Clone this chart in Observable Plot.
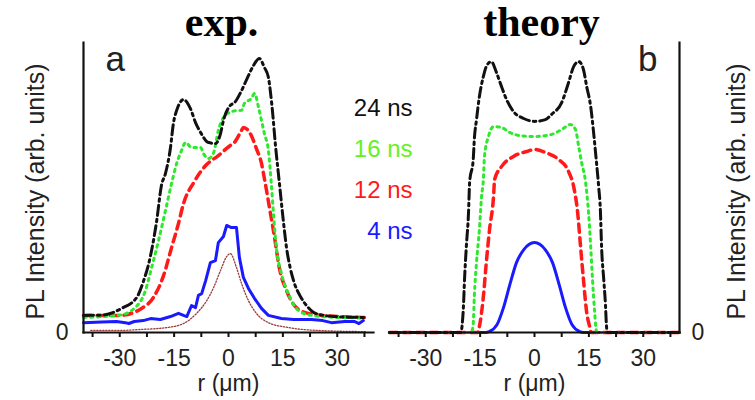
<!DOCTYPE html>
<html><head><meta charset="utf-8">
<script src="https://cdn.jsdelivr.net/npm/d3@7"></script>
<script src="https://cdn.jsdelivr.net/npm/@observablehq/plot@0.6"></script>
<style>body{margin:0;background:#fff;}</style>
</head><body><div id="chart"></div>
<script>
const panels = ["exp.", "theory"];
const panelLetters = ["a", "b"];
const xTicksMajor = [-30, -15, 0, 15, 30];
const xTicksMinor = [-37.5, -30, -22.5, -15, -7.5, 0, 7.5, 15, 22.5, 30, 37.5];
const yTicks = [0];
const xLabel = "r (μm)";
const yLabel = "PL Intensity (arb. units)";
const legendLabels = ["24 ns", "16 ns", "12 ns", "4 ns"];
const legendColors = ["#111111", "#66f022", "#ff1a1a", "#1a1aff"];

// experiment (panel a)
const exp24R = [-40, -35, -29.5, -25.3, -23.4, -22, -20.7, -19.8, -18.5, -17.4, -16, -15.2, -14.3, -12.4, -10.5, -9.1, -7.7, -5.5, -3.6, -2.2, -1.4, 0.5, 1.7, 3.6, 5.5, 6.9, 8.5, 9.9, 11, 12, 13, 14, 15, 16, 17, 18.2, 20, 22, 24, 29, 33, 37.5];
const exp24V = [5.9, 6.0, 8.3, 12.1, 17.9, 23.8, 31.7, 38.6, 50.7, 54.8, 63.8, 72.1, 76.6, 80.3, 77.2, 72.4, 69.0, 65.5, 65.2, 68.6, 73.1, 78.3, 79.3, 83.4, 88.6, 92.1, 94.5, 91.4, 88.0, 78.0, 64.0, 52.0, 40.0, 29.3, 22.4, 16.9, 12.1, 8.6, 6.6, 5.5, 5.3, 5.2];
const exp16R = [-40, -30, -26, -22.9, -21.2, -19.3, -17.4, -15.7, -14.3, -13.2, -11.8, -10.2, -7.7, -6.9, -5.5, -4.1, -2.8, -1.4, 0.3, 2, 3.6, 4.4, 6.3, 7.2, 8.3, 9.1, 9.9, 11, 11.8, 12.4, 13.2, 14.6, 16.5, 19.3, 22.9, 30, 37.5];
const exp16V = [5.2, 6.0, 8.3, 14.5, 22.4, 31.7, 42.0, 51.4, 58.3, 62.0, 65.5, 63.8, 63.8, 61.7, 60.0, 62.0, 69.7, 74.1, 75.9, 76.5, 76.6, 79.0, 80.7, 82.4, 77.6, 73.1, 68.6, 62.8, 51.4, 41.0, 29.3, 20.3, 13.4, 7.6, 5.9, 5.2, 5.0];
const exp12R = [-40, -30, -24, -20.7, -17.9, -15.7, -13.8, -12.4, -9.6, -6.3, -2.8, 0.5, 1.4, 3.6, 4.1, 6.3, 7.7, 9.1, 9.9, 11.3, 12.7, 14, 16, 18.7, 22, 30, 37.5];
const exp12V = [5.9, 5.9, 8.3, 12.1, 19.7, 29.3, 37.6, 44.5, 51.7, 57.6, 61.0, 64.5, 65.2, 69.7, 70.7, 67.9, 63.4, 58.3, 53.1, 43.1, 32.8, 22.4, 14.5, 8.6, 6.6, 5.5, 5.2];
const exp4R = [-40, -35, -30.9, -28.5, -27.5, -26, -23.5, -21.5, -18.8, -16, -13.8, -12.4, -11.5, -10.2, -9.1, -8.3, -7.4, -6.3, -5, -3.6, -2.8, -1.4, -0.5, 0.8, 2.2, 3, 4.1, 5.5, 7.2, 9.1, 11, 14.6, 18, 22.9, 26, 28.4, 32, 34.7, 36, 37.2];
const exp4V = [3.4, 3.6, 3.8, 3.4, 3.1, 3.8, 4.1, 4.8, 4.5, 5.5, 6.6, 5.9, 5.5, 9.3, 8.6, 12.8, 13.4, 17.9, 24.1, 24.8, 31.0, 33.1, 36.9, 36.2, 36.2, 25.9, 19.0, 15.2, 11.7, 8.3, 5.9, 4.8, 4.5, 4.5, 4.1, 3.4, 3.8, 3.8, 3.1, 4.1];
const spotR = [-38, -30, -25, -17, -12.4, -8.8, -6, -4.1, -2.2, -0.5, 0.5, 2.2, 3.6, 5.5, 7.7, 11, 16.5, 24.8, 38];
const spotV = [0.7, 0.7, 1.0, 1.7, 3.1, 6.6, 11.0, 15.5, 21.4, 26.2, 27.2, 22.4, 16.9, 11.0, 6.6, 3.4, 1.7, 0.7, 0.3];

// theory (panel b)
const th24R = [-40, -20.3, -19.9, -19.6, -19.3, -18.8, -18.2, -17.9, -16.9, -16.6, -16, -15.2, -14.1, -13.3, -11.9, -10.5, -9.1, -7.7, -5.8, -3, 0, 3, 4.7, 7.5, 9.4, 10.8, 12.2, 13.5, 14.4, 15.5, 16.3, 17.1, 17.7, 18.2, 18.5, 19.1, 19.6, 19.8, 20.1, 40];
const th24V = [0, 0, 3.4, 9.0, 18.3, 29.7, 41.4, 51.7, 59.7, 66.6, 73.4, 81.4, 88.3, 91.7, 93.4, 89.7, 84.8, 80.3, 76.2, 73.8, 72.8, 73.4, 75.2, 79.3, 86.2, 91.7, 93.4, 90.7, 84.8, 77.9, 69.0, 58.6, 50.3, 41.4, 29.7, 18.3, 9.0, 3.4, 0, 0];
const th16R = [-40, -17.4, -16.9, -16.6, -16, -15.2, -14.6, -14.1, -13.8, -12.7, -11.3, -9.1, -6.9, -4.1, 0, 4.7, 7.5, 9.9, 11.3, 12.2, 13, 14.1, 14.9, 15.5, 16, 16.6, 16.9, 17.2, 40];
const th16V = [0, 0, 3.0, 12.4, 24.1, 35.5, 46.9, 52.8, 60.7, 67.6, 71.0, 70.7, 69.0, 67.9, 67.6, 68.3, 70.0, 71.7, 70.0, 64.1, 58.6, 51.7, 41.4, 29.7, 18.3, 6.9, 2.1, 0, 0];
const th12R = [-40, -15.6, -15.2, -14.1, -13.3, -12.4, -11.3, -11, -9.1, -5.8, -2.2, 0, 3, 6.6, 9.4, 10.8, 11.9, 12.7, 13.5, 14.4, 15.2, 15.6, 40];
const th12V = [0, 0, 2.1, 12.4, 24.1, 35.5, 46.9, 52.8, 57.2, 60.7, 62.4, 63.1, 62.1, 59.7, 55.5, 50.3, 41.4, 29.7, 18.3, 6.9, 2.1, 0, 0];
const th4R = [-40, -13.5, -12.5, -10.3, -8.6, -6.8, -5, -3, 0, 3, 5, 6.8, 8.6, 10.3, 12.5, 13.5, 40];
const th4V = [0, 0, 0.3, 2.8, 8.4, 16.5, 24.0, 28.5, 31.0, 28.5, 24.0, 16.5, 8.4, 2.8, 0.3, 0, 0];

const rows = (panel, series, R, V) => R.map((r, i) => ({panel, series, r, v: V[i]}));

const styles = {
  "24 ns": {stroke: "#111111", strokeWidth: 3, strokeDasharray: "10,4,2.5,4"},
  "16 ns": {stroke: "#2ee82e", strokeWidth: 3, strokeDasharray: "2.5,4.5"},
  "12 ns": {stroke: "#ff1a1a", strokeWidth: 3.5, strokeDasharray: "8,5.5"},
  "4 ns": {stroke: "#1a1aff", strokeWidth: 3},
  "spot": {stroke: "#9a3b3b", strokeWidth: 1.3, strokeDasharray: "1.3,1.7"}
};

const layers = [
  {data: rows(panels[0], "spot", spotR, spotV), curve: "monotone-x"},
  {data: rows(panels[0], "4 ns", exp4R, exp4V), curve: "linear"},
  {data: rows(panels[0], "12 ns", exp12R, exp12V), curve: "monotone-x"},
  {data: rows(panels[0], "16 ns", exp16R, exp16V), curve: "monotone-x"},
  {data: rows(panels[0], "24 ns", exp24R, exp24V), curve: "monotone-x"},
  {data: rows(panels[1], "4 ns", th4R, th4V), curve: "monotone-x"},
  {data: rows(panels[1], "12 ns", th12R, th12V), curve: "monotone-x"},
  {data: rows(panels[1], "16 ns", th16R, th16V), curve: "monotone-x"},
  {data: rows(panels[1], "24 ns", th24R, th24V), curve: "monotone-x"}
];

const sans = "'Liberation Sans', Arial, Helvetica, sans-serif";

const chart = Plot.plot({
  width: 755,
  height: 400,
  marginLeft: 82,
  marginRight: 75,
  marginTop: 42,
  marginBottom: 68,
  fx: {domain: panels, paddingInner: 0.052, paddingOuter: 0, axis: null, label: null},
  x: {domain: [-40, 40]},
  y: {domain: [0, 100]},
  style: {fontFamily: sans, background: "white", color: "#222"},
  marks: [
    ...layers.map(L => Plot.line(L.data, {x: "r", y: "v", fx: "panel", curve: L.curve, ...styles[L.data[0].series]})),
    Plot.frame({anchor: "bottom", strokeWidth: 2.2, stroke: "#111"}),
    Plot.frame({anchor: "left", facetAnchor: "left", strokeWidth: 2.2, stroke: "#111"}),
    Plot.frame({anchor: "right", facetAnchor: "right", strokeWidth: 2.2, stroke: "#111"}),
    Plot.axisX(xTicksMinor, {tickSize: 5, strokeWidth: 2, stroke: "#111", tickFormat: () => "", label: null}),
    Plot.axisX(xTicksMajor, {tickSize: 0, tickPadding: 17, fontSize: 23, fill: "#222", tickFormat: d => String(d), label: null}),
    Plot.axisY(yTicks, {anchor: "left", facetAnchor: "left", tickSize: 0, tickPadding: 15, fontSize: 23, fill: "#222", label: null}),
    Plot.axisY(yTicks, {anchor: "right", facetAnchor: "right", tickSize: 0, tickPadding: 12, fontSize: 23, fill: "#222", label: null}),
    Plot.text([xLabel], {text: d => d, frameAnchor: "bottom", lineAnchor: "top", dy: 42, fontSize: 23, fill: "#222"}),
    Plot.text([yLabel], {text: d => d, frameAnchor: "left", textAnchor: "middle", rotate: -90, dx: -48, dy: 4, fontSize: 25, fill: "#222", facetAnchor: "left"}),
    Plot.text([yLabel], {text: d => d, frameAnchor: "right", textAnchor: "middle", rotate: -90, dx: 57, dy: 4, fontSize: 25, fill: "#222", facetAnchor: "right"}),
    Plot.text([{panel: panels[0]}], {fx: "panel", text: "panel", frameAnchor: "top", lineAnchor: "bottom", dx: -7, dy: -7, fontSize: 42, fontWeight: "bold", fontFamily: "'Liberation Serif', 'Times New Roman', serif", fill: "#000"}),
    Plot.text([{panel: panels[1]}], {fx: "panel", text: "panel", frameAnchor: "top", lineAnchor: "bottom", dx: 7, dy: -7, fontSize: 42, fontWeight: "bold", fontFamily: "'Liberation Serif', 'Times New Roman', serif", fill: "#000"}),
    Plot.text([{panel: panels[0], t: panelLetters[0]}], {fx: "panel", text: "t", frameAnchor: "top-left", textAnchor: "start", lineAnchor: "bottom", dx: 22, dy: 28, fontSize: 35, fill: "#222"}),
    Plot.text([{panel: panels[1], t: panelLetters[1]}], {fx: "panel", text: "t", frameAnchor: "top-right", textAnchor: "end", lineAnchor: "bottom", dx: -22, dy: 28, fontSize: 35, fill: "#222"}),
    ...legendLabels.map((lab, i) => Plot.text([{panel: panels[1], t: lab}], {fx: "panel", text: "t", frameAnchor: "top-left", textAnchor: "end", lineAnchor: "bottom", dx: 23, dy: 73 + 41 * i, fontSize: 24, fill: legendColors[i]}))
  ]
});
document.getElementById("chart").appendChild(chart);
</script>
</body></html>
